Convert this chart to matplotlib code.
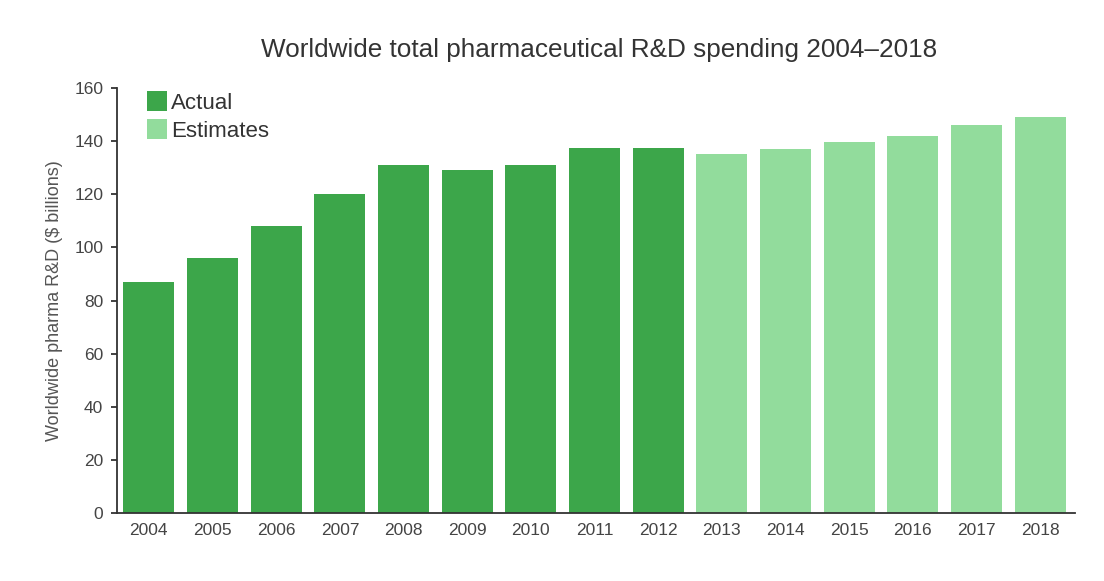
import matplotlib
matplotlib.use("Agg")
import matplotlib.pyplot as plt
from matplotlib.patches import Patch

plt.rcParams['font.family'] = ['Liberation Sans', 'DejaVu Sans']

# data ($ billions)
years = ['2004', '2005', '2006', '2007', '2008', '2009', '2010', '2011',
         '2012', '2013', '2014', '2015', '2016', '2017', '2018']
spending = [87, 96, 108, 120, 131, 129, 131, 137.5,
            137.5, 135, 137, 139.5, 142, 146, 149]
is_actual = [True] * 9 + [False] * 6

c_actual = '#3ca64a'
c_est = '#92dc9c'
colors = [c_actual if a else c_est for a in is_actual]

fig = plt.figure(figsize=(11.04, 5.81), dpi=100)
ax = fig.add_axes([0.106, 0.117, 0.868, 0.7315])

ax.bar(range(len(years)), spending, width=0.8, color=colors, edgecolor='none')

ax.set_xlim(-0.5, 14.55)
ax.set_ylim(0, 160)
ax.set_xticks(range(len(years)))
ax.set_xticklabels(years)
ax.set_yticks(range(0, 161, 20))

for s in ['top', 'right']:
    ax.spines[s].set_visible(False)
for s in ['left', 'bottom']:
    ax.spines[s].set_color('#333333')
    ax.spines[s].set_linewidth(1.3)

ax.tick_params(axis='x', length=0, pad=7, labelsize=12.5, labelcolor='#444444')
ax.tick_params(axis='y', length=4, width=1.3, color='#333333', pad=6,
               labelsize=12.5, labelcolor='#444444')

ax.set_ylabel('Worldwide pharma R&D ($ billions)', fontsize=13,
              color='#555555', labelpad=8)

fig.suptitle('Worldwide total pharmaceutical R&D spending 2004\u20132018',
             x=0.543, y=0.935, fontsize=18.8, color='#333333')

handles = [Patch(facecolor=c_actual, label='Actual'),
           Patch(facecolor=c_est, label='Estimates')]
ax.legend(handles=handles, loc='upper left', bbox_to_anchor=(0.01, 1.04),
          frameon=False, fontsize=16, handlelength=0.9, handleheight=1.0,
          handletextpad=0.2, labelspacing=0.25, labelcolor='#333333')

fig.savefig('out.png', dpi=100, facecolor='white')
